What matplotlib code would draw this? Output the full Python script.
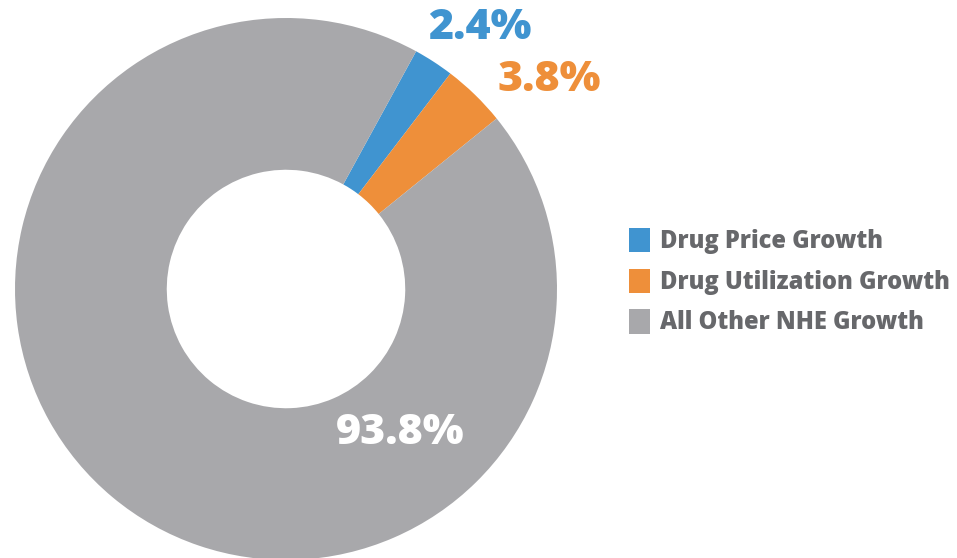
import matplotlib.pyplot as plt

labels = ["Drug Price Growth", "Drug Utilization Growth", "All Other NHE Growth"]
values = [2.4, 3.8, 93.8]
value_labels = ["2.4%", "3.8%", "93.8%"]
colors = ["#4094d0", "#ee8f3a", "#a8a8ab"]

W, H = 957, 558
fig = plt.figure(figsize=(W / 100, H / 100), dpi=100)
cx, cy, R = 286, 289, 271
ax = fig.add_axes([(cx - R) / W, (H - cy - R) / H, 2 * R / W, 2 * R / H])
wedges, _ = ax.pie(values, colors=colors, startangle=61.3, counterclock=False,
                   radius=1.0, wedgeprops=dict(width=0.56, linewidth=0))
ax.set_xlim(-1, 1)
ax.set_ylim(-1, 1)
ax.set_aspect('equal')
ax.axis('off')

font = 'Open Sans'
def ftxt(x, y, s, color, size):
    fig.text(x / W, 1 - y / H, s, color=color, fontsize=size, fontweight='heavy',
             family=font, ha='center', va='center')

ftxt(480, 28, value_labels[0], colors[0], 31)
ftxt(549, 80, value_labels[1], colors[1], 31)
ftxt(400, 433, value_labels[2], 'white', 31)

leg = fig.legend(wedges, labels, loc='upper left', bbox_to_anchor=(629 / W, 1 - 228 / H),
                 frameon=False, handlelength=0.9, handleheight=1.2,
                 handletextpad=0.42, labelspacing=0.62, borderpad=0, borderaxespad=0,
                 prop=dict(family=font, weight='heavy', size=17))
for t in leg.get_texts():
    t.set_color('#67686b')

fig.savefig('out.png', dpi=100)
